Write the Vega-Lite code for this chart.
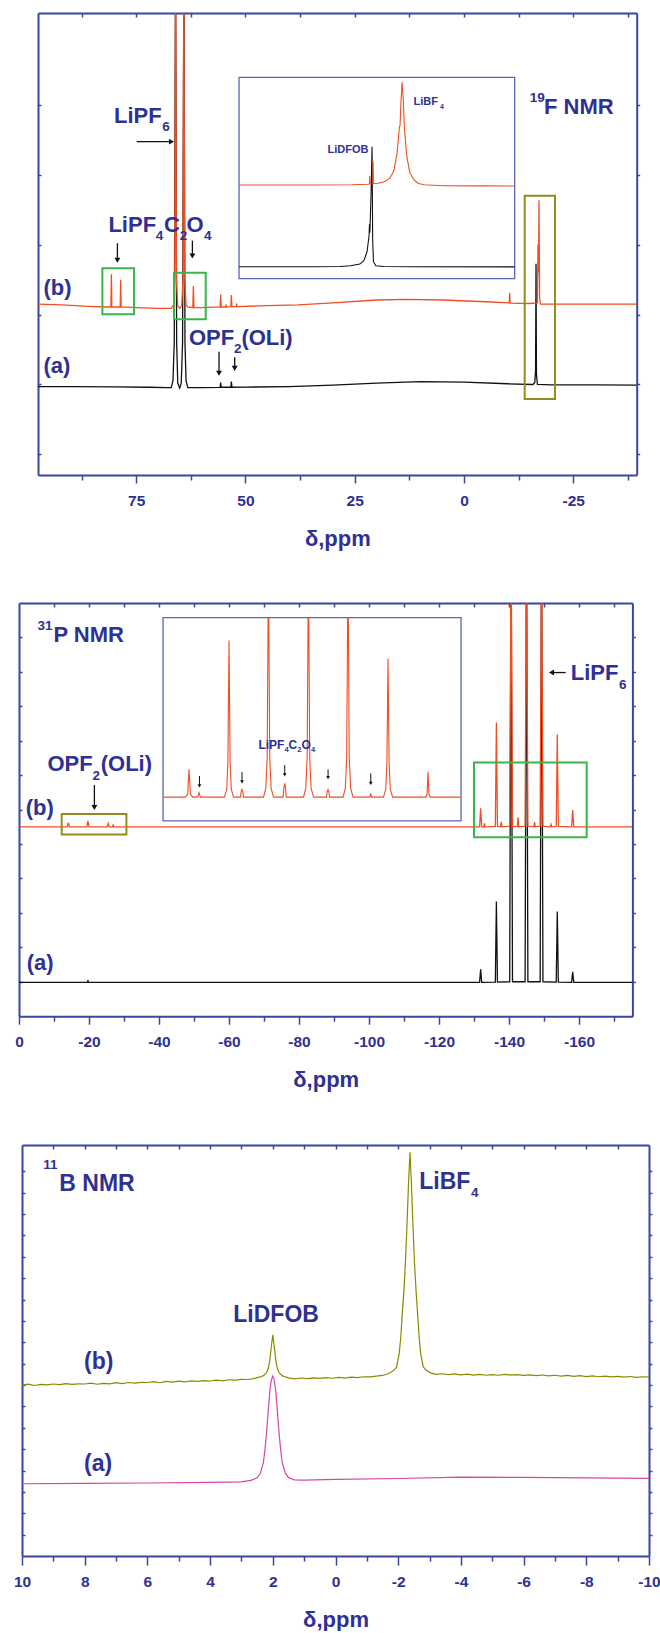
{
"$schema": "https://vega.github.io/schema/vega-lite/v6.json",
"padding": {"left": 0, "top": 12, "right": 0, "bottom": 0},
"background": "white",
"config": {
 "view": {"stroke": null},
 "axis": {"domainColor": "#3a46a0", "domainWidth": 2, "tickColor": "#3a46a0", "tickWidth": 1.5, "labelColor": "#2e3192", "labelFont": "Liberation Sans", "labelFontWeight": "bold", "labelFontSize": 15.5, "titleColor": "#2e3192", "titleFont": "Liberation Sans", "titleFontWeight": "bold", "titleFontSize": 22, "grid": false}
},
"datasets": {
 "p1a": [{"x":97.48,"y":0.97},{"x":90,"y":0.968},{"x":80,"y":0.965},{"x":72,"y":0.96},{"x":68,"y":0.955},{"x":67,"y":0.955},{"x":66.6,"y":1.05},{"x":66.3,"y":1.6},{"x":66.0,"y":7},{"x":65.75,"y":1.6},{"x":65.5,"y":1.02},{"x":65.05,"y":0.95},{"x":64.7,"y":1.02},{"x":64.4,"y":1.6},{"x":64.1,"y":7},{"x":63.85,"y":1.6},{"x":63.6,"y":1.05},{"x":63.2,"y":0.955},{"x":60,"y":0.955},{"x":55.8,"y":0.958},{"x":55.68,"y":1.026},{"x":55.56,"y":0.96},{"x":53.35,"y":0.96},{"x":53.23,"y":1.04},{"x":53.1,"y":0.96},{"x":50,"y":0.962},{"x":40,"y":0.97},{"x":30,"y":0.99},{"x":20,"y":1.02},{"x":10,"y":1.04},{"x":0,"y":1.035},{"x":-10,"y":1.01},{"x":-15.8,"y":1.0},{"x":-16.2,"y":1.03},{"x":-16.38,"y":1.2},{"x":-16.48,"y":2.73},{"x":-16.58,"y":1.15},{"x":-16.8,"y":1.0},{"x":-20,"y":0.995},{"x":-30,"y":0.993},{"x":-39.52,"y":0.99}],
 "p1b": [{"x":97.48,"y":2.15},{"x":92,"y":2.14},{"x":86,"y":2.12},{"x":82,"y":2.11},{"x":80.8,"y":2.11},{"x":80.69,"y":2.58},{"x":80.58,"y":2.11},{"x":78.67,"y":2.11},{"x":78.56,"y":2.5},{"x":78.45,"y":2.11},{"x":75,"y":2.1},{"x":70,"y":2.09},{"x":67,"y":2.09},{"x":66.45,"y":2.14},{"x":66.2,"y":2.5},{"x":66.0,"y":7},{"x":65.8,"y":2.5},{"x":65.5,"y":2.13},{"x":65.05,"y":2.09},{"x":64.6,"y":2.13},{"x":64.3,"y":2.5},{"x":64.1,"y":7},{"x":63.9,"y":2.5},{"x":63.6,"y":2.14},{"x":63.2,"y":2.11},{"x":62.05,"y":2.1},{"x":61.92,"y":2.41},{"x":61.79,"y":2.1},{"x":60,"y":2.1},{"x":55.8,"y":2.11},{"x":55.68,"y":2.29},{"x":55.56,"y":2.11},{"x":54.52,"y":2.11},{"x":54.46,"y":2.15},{"x":54.4,"y":2.11},{"x":53.35,"y":2.115},{"x":53.23,"y":2.28},{"x":53.1,"y":2.115},{"x":52.08,"y":2.115},{"x":52.01,"y":2.16},{"x":51.94,"y":2.115},{"x":45,"y":2.13},{"x":38,"y":2.14},{"x":30,"y":2.17},{"x":20,"y":2.21},{"x":13,"y":2.22},{"x":5,"y":2.21},{"x":-5,"y":2.185},{"x":-10.35,"y":2.17},{"x":-10.46,"y":2.31},{"x":-10.57,"y":2.165},{"x":-15,"y":2.16},{"x":-16.8,"y":2.17},{"x":-16.93,"y":3.0},{"x":-17.05,"y":2.6},{"x":-17.16,"y":3.64},{"x":-17.3,"y":2.25},{"x":-17.5,"y":2.15},{"x":-20,"y":2.15},{"x":-30,"y":2.15},{"x":-39.52,"y":2.15}],
 "p1ia": [{"x":-13.18,"y":1.2},{"x":-15.0,"y":1.2},{"x":-15.7,"y":1.22},{"x":-15.97,"y":1.29},{"x":-16.2,"y":1.46},{"x":-16.3,"y":1.8},{"x":-16.38,"y":2.7},{"x":-16.43,"y":4.3},{"x":-16.44,"y":5.44},{"x":-16.45,"y":4.6},{"x":-16.48,"y":8.5},{"x":-16.505,"y":13.2},{"x":-16.52,"y":4.0},{"x":-16.54,"y":1.7},{"x":-16.6,"y":1.3},{"x":-16.8,"y":1.22},{"x":-17.5,"y":1.2},{"x":-20.07,"y":1.18}],
 "p1ib": [{"x":-13.18,"y":9.37},{"x":-15.0,"y":9.37},{"x":-16.0,"y":9.39},{"x":-16.4,"y":9.45},{"x":-16.44,"y":9.46},{"x":-16.448,"y":10.27},{"x":-16.456,"y":9.47},{"x":-16.52,"y":9.5},{"x":-16.53,"y":11.8},{"x":-16.54,"y":9.52},{"x":-16.65,"y":9.55},{"x":-16.75,"y":9.63},{"x":-16.85,"y":9.76},{"x":-16.95,"y":10.05},{"x":-17.05,"y":10.79},{"x":-17.13,"y":12.53},{"x":-17.19,"y":15.2},{"x":-17.205,"y":15.3},{"x":-17.225,"y":17.5},{"x":-17.255,"y":19.64},{"x":-17.285,"y":18.0},{"x":-17.31,"y":15.3},{"x":-17.37,"y":12.3},{"x":-17.45,"y":10.6},{"x":-17.55,"y":9.9},{"x":-17.65,"y":9.55},{"x":-17.8,"y":9.4},{"x":-18.3,"y":9.3},{"x":-19.2,"y":9.28},{"x":-20.07,"y":9.27}],
 "p1frame": [{"x":-13.18,"x2":-20.07,"y":0,"y2":20.14}],
 "p1txt": [{"t":"LiPF","x":80.09,"y":4.751,"r":"b"},{"t":"6","x":69.02,"y":4.636,"r":"s"},{"t":"LiPF","x":81.37,"y":3.189,"r":"b"},{"t":"4","x":70.55,"y":3.07,"r":"s"},{"t":"C","x":68.65,"y":3.189,"r":"b"},{"t":"2","x":65.06,"y":3.07,"r":"s"},{"t":"O","x":63.52,"y":3.189,"r":"b"},{"t":"4","x":59.5,"y":3.07,"r":"s"},{"t":"OPF","x":62.93,"y":1.566,"r":"b"},{"t":"2","x":52.63,"y":1.447,"r":"s"},{"t":"(OLi)","x":50.94,"y":1.566,"r":"b"},{"t":"(b)","x":96.25,"y":2.282,"r":"b"},{"t":"(a)","x":96.25,"y":1.16,"r":"b"},{"t":"19","x":-15.03,"y":5.052,"r":"s"},{"t":"F NMR","x":-18.31,"y":4.871,"r":"b"}],
 "p1itxt": [{"t":"LiDFOB","x":-15.39,"y":12.6,"r":"b"},{"t":"LiBF","x":-17.54,"y":17.37,"r":"b"},{"t":"4","x":-18.205,"y":16.94,"r":"s"}],
 "p1arr": [{"x":66.93,"y":4.479,"x2":74.9,"y2":4.479,"d":"right"},{"x":79.31,"y":2.78,"x2":79.31,"y2":3.023,"d":"down"},{"x":62.15,"y":2.84,"x2":62.15,"y2":3.06,"d":"down"},{"x":56.06,"y":1.16,"x2":56.06,"y2":1.47,"d":"down"},{"x":52.47,"y":1.23,"x2":52.47,"y2":1.39,"d":"down"}],
 "p1box": [{"x":82.75,"x2":75.5,"y":2.006,"y2":2.665,"c":"g"},{"x":66.36,"x2":59.1,"y":1.934,"y2":2.6,"c":"g"},{"x":-13.89,"x2":-20.82,"y":0.792,"y2":3.705,"c":"o"}],
 "p2a": [{"x":0,"y":0.985},{"x":-19.5,"y":0.985},{"x":-19.7,"y":1.03},{"x":-19.9,"y":0.985},{"x":-131.6,"y":0.985},{"x":-131.9,"y":1.36},{"x":-132.2,"y":0.985},{"x":-136.1,"y":0.99},{"x":-136.4,"y":3.33},{"x":-136.7,"y":0.99},{"x":-140.2,"y":1.0},{"x":-140.6,"y":14},{"x":-141.0,"y":1.0},{"x":-144.6,"y":1.0},{"x":-145.0,"y":14},{"x":-145.4,"y":1.0},{"x":-148.9,"y":1.0},{"x":-149.3,"y":14},{"x":-149.7,"y":1.0},{"x":-153.5,"y":0.99},{"x":-153.8,"y":3.04},{"x":-154.1,"y":0.99},{"x":-157.9,"y":0.985},{"x":-158.2,"y":1.29},{"x":-158.5,"y":0.985},{"x":-175.26,"y":0.985}],
 "p2b": [{"x":0,"y":5.5},{"x":-13.8,"y":5.5},{"x":-14.1,"y":5.62},{"x":-14.4,"y":5.5},{"x":-19.4,"y":5.5},{"x":-19.7,"y":5.67},{"x":-20.0,"y":5.5},{"x":-25.2,"y":5.5},{"x":-25.5,"y":5.6},{"x":-25.8,"y":5.5},{"x":-26.7,"y":5.5},{"x":-26.9,"y":5.55},{"x":-27.1,"y":5.5},{"x":-131.6,"y":5.5},{"x":-131.9,"y":6.04},{"x":-132.2,"y":5.5},{"x":-132.8,"y":5.5},{"x":-133.0,"y":5.6},{"x":-133.2,"y":5.5},{"x":-136.1,"y":5.51},{"x":-136.4,"y":8.53},{"x":-136.7,"y":5.51},{"x":-137.6,"y":5.5},{"x":-137.8,"y":5.64},{"x":-138.0,"y":5.5},{"x":-140.2,"y":5.52},{"x":-140.6,"y":14},{"x":-141.0,"y":5.52},{"x":-142.4,"y":5.5},{"x":-142.6,"y":5.78},{"x":-142.8,"y":5.5},{"x":-144.6,"y":5.52},{"x":-145.0,"y":14},{"x":-145.4,"y":5.52},{"x":-147.1,"y":5.5},{"x":-147.3,"y":5.64},{"x":-147.5,"y":5.5},{"x":-148.9,"y":5.52},{"x":-149.3,"y":14},{"x":-149.7,"y":5.52},{"x":-151.8,"y":5.5},{"x":-152.0,"y":5.57},{"x":-152.2,"y":5.5},{"x":-153.5,"y":5.51},{"x":-153.8,"y":8.18},{"x":-154.1,"y":5.51},{"x":-157.9,"y":5.5},{"x":-158.2,"y":5.99},{"x":-158.5,"y":5.5},{"x":-175.26,"y":5.5}],
 "p2ib": [{"x":-129.04,"y":0},{"x":-131.5,"y":0},{"x":-131.75,"y":0.3},{"x":-131.9,"y":2.77},{"x":-132.05,"y":0.3},{"x":-132.3,"y":0},{"x":-132.85,"y":0},{"x":-133.0,"y":0.44},{"x":-133.15,"y":0},{"x":-135.8,"y":0},{"x":-136.05,"y":0.8},{"x":-136.18,"y":3.5},{"x":-136.3,"y":15.67},{"x":-136.42,"y":3.5},{"x":-136.55,"y":0.8},{"x":-136.8,"y":0},{"x":-137.55,"y":0},{"x":-137.65,"y":0.6},{"x":-137.73,"y":0.77},{"x":-137.81,"y":0.6},{"x":-137.9,"y":0},{"x":-140.1,"y":0},{"x":-140.35,"y":0.9},{"x":-140.5,"y":4.0},{"x":-140.6,"y":17.95},{"x":-140.68,"y":17.95},{"x":-140.78,"y":4.0},{"x":-140.93,"y":0.9},{"x":-141.2,"y":0},{"x":-142.25,"y":0},{"x":-142.35,"y":1.0},{"x":-142.43,"y":1.37},{"x":-142.51,"y":1.0},{"x":-142.6,"y":0},{"x":-144.5,"y":0},{"x":-144.75,"y":0.9},{"x":-144.9,"y":4.0},{"x":-145.0,"y":17.95},{"x":-145.08,"y":17.95},{"x":-145.18,"y":4.0},{"x":-145.33,"y":0.9},{"x":-145.6,"y":0},{"x":-147.02,"y":0},{"x":-147.12,"y":0.6},{"x":-147.2,"y":0.77},{"x":-147.28,"y":0.6},{"x":-147.38,"y":0},{"x":-148.85,"y":0},{"x":-149.1,"y":0.9},{"x":-149.25,"y":4.0},{"x":-149.35,"y":17.95},{"x":-149.43,"y":17.95},{"x":-149.53,"y":4.0},{"x":-149.68,"y":0.9},{"x":-149.95,"y":0},{"x":-151.8,"y":0},{"x":-151.9,"y":0.37},{"x":-152.0,"y":0},{"x":-153.3,"y":0},{"x":-153.55,"y":0.8},{"x":-153.68,"y":3.5},{"x":-153.8,"y":13.84},{"x":-153.92,"y":3.5},{"x":-154.05,"y":0.8},{"x":-154.3,"y":0},{"x":-157.95,"y":0},{"x":-158.1,"y":0.3},{"x":-158.2,"y":2.54},{"x":-158.3,"y":0.3},{"x":-158.45,"y":0},{"x":-161.83,"y":0}],
 "p2frame": [{"x":-129.04,"x2":-161.83,"y":-2.37,"y2":17.95}],
 "p2txt": [{"t":"31","x":-5.26,"y":11.23,"r":"s"},{"t":"P NMR","x":-9.83,"y":10.86,"r":"b"},{"t":"OPF","x":-8.11,"y":7.107,"r":"b"},{"t":"2","x":-20.97,"y":6.866,"r":"s"},{"t":"(OLi)","x":-23.34,"y":7.107,"r":"b"},{"t":"(b)","x":-1.91,"y":5.832,"r":"b"},{"t":"(a)","x":-2.2,"y":1.339,"r":"b"},{"t":"LiPF","x":-157.63,"y":9.771,"r":"b"},{"t":"6","x":-171.43,"y":9.512,"r":"s"}],
 "p2itxt": [{"t":"LiPF","x":-139.54,"y":4.77,"r":"b"},{"t":"4","x":-142.4,"y":4.47,"r":"s"},{"t":"C","x":-142.86,"y":4.77,"r":"b"},{"t":"2","x":-143.82,"y":4.47,"r":"s"},{"t":"O","x":-144.28,"y":4.77,"r":"b"},{"t":"4","x":-145.31,"y":4.47,"r":"s"}],
 "p2arr": [{"x":-21.54,"y":6.06,"x2":-21.54,"y2":6.712,"d":"down"},{"x":-152.14,"y":9.98,"x2":-156.2,"y2":9.98,"d":"left"}],
 "p2iarr": [{"x":-133.05,"y":1.12,"x2":-133.05,"y2":2.1,"d":"down"},{"x":-137.73,"y":1.52,"x2":-137.73,"y2":2.5,"d":"down"},{"x":-142.43,"y":2.22,"x2":-142.43,"y2":3.2,"d":"down"},{"x":-147.2,"y":1.95,"x2":-147.2,"y2":2.77,"d":"down"},{"x":-151.9,"y":1.38,"x2":-151.9,"y2":2.37,"d":"down"}],
 "p2box": [{"x":-12.2,"x2":-30.69,"y":5.28,"y2":5.873,"c":"o"},{"x":-130,"x2":-162.2,"y":5.196,"y2":7.366,"c":"g"}],
 "p3a": [{"x":10,"y":3.385},{"x":8,"y":3.4},{"x":6,"y":3.42},{"x":4,"y":3.45},{"x":3.0,"y":3.47},{"x":2.7,"y":3.54},{"x":2.5,"y":3.66},{"x":2.4,"y":3.86},{"x":2.3,"y":4.38},{"x":2.25,"y":4.98},{"x":2.2,"y":5.76},{"x":2.15,"y":6.7},{"x":2.1,"y":7.63},{"x":2.05,"y":8.22},{"x":2.0,"y":8.42},{"x":1.95,"y":8.22},{"x":1.9,"y":7.63},{"x":1.85,"y":6.7},{"x":1.8,"y":5.76},{"x":1.75,"y":4.98},{"x":1.7,"y":4.38},{"x":1.6,"y":3.88},{"x":1.5,"y":3.67},{"x":1.3,"y":3.56},{"x":1.0,"y":3.55},{"x":0,"y":3.59},{"x":-2,"y":3.63},{"x":-4,"y":3.69},{"x":-6,"y":3.68},{"x":-8,"y":3.66},{"x":-10,"y":3.64}],
 "p3b": [{"x":10.0,"y":8.0},{"x":9.8,"y":8.04},{"x":9.6,"y":7.98},{"x":9.4,"y":8.03},{"x":9.2,"y":8.01},{"x":9.0,"y":8.05},{"x":8.8,"y":8.02},{"x":8.6,"y":8.07},{"x":8.4,"y":8.03},{"x":8.2,"y":8.06},{"x":8.0,"y":8.05},{"x":7.8,"y":8.09},{"x":7.6,"y":8.04},{"x":7.4,"y":8.08},{"x":7.2,"y":8.06},{"x":7.0,"y":8.11},{"x":6.8,"y":8.07},{"x":6.6,"y":8.12},{"x":6.4,"y":8.09},{"x":6.2,"y":8.13},{"x":6.0,"y":8.12},{"x":5.8,"y":8.16},{"x":5.6,"y":8.11},{"x":5.4,"y":8.17},{"x":5.2,"y":8.14},{"x":5.0,"y":8.18},{"x":4.8,"y":8.15},{"x":4.6,"y":8.2},{"x":4.4,"y":8.17},{"x":4.2,"y":8.21},{"x":4.0,"y":8.19},{"x":3.8,"y":8.23},{"x":3.6,"y":8.2},{"x":3.4,"y":8.25},{"x":3.2,"y":8.23},{"x":3.0,"y":8.27},{"x":2.8,"y":8.26},{"x":2.6,"y":8.3},{"x":2.5,"y":8.35},{"x":2.4,"y":8.38},{"x":2.3,"y":8.44},{"x":2.2,"y":8.58},{"x":2.15,"y":8.75},{"x":2.1,"y":9.1},{"x":2.05,"y":9.77},{"x":2.0,"y":10.35},{"x":1.95,"y":9.77},{"x":1.9,"y":9.1},{"x":1.85,"y":8.75},{"x":1.8,"y":8.58},{"x":1.7,"y":8.44},{"x":1.6,"y":8.38},{"x":1.5,"y":8.34},{"x":1.3,"y":8.29},{"x":1.1,"y":8.33},{"x":0.9,"y":8.3},{"x":0.7,"y":8.34},{"x":0.5,"y":8.31},{"x":0.3,"y":8.35},{"x":0.1,"y":8.32},{"x":-0.1,"y":8.36},{"x":-0.3,"y":8.33},{"x":-0.5,"y":8.37},{"x":-0.7,"y":8.35},{"x":-0.9,"y":8.39},{"x":-1.1,"y":8.38},{"x":-1.3,"y":8.42},{"x":-1.5,"y":8.45},{"x":-1.7,"y":8.54},{"x":-1.85,"y":8.68},{"x":-1.95,"y":8.84},{"x":-2.03,"y":9.46},{"x":-2.08,"y":10.19},{"x":-2.13,"y":11.33},{"x":-2.18,"y":12.37},{"x":-2.23,"y":13.72},{"x":-2.28,"y":15.49},{"x":-2.33,"y":17.47},{"x":-2.376,"y":18.89},{"x":-2.42,"y":17.5},{"x":-2.47,"y":15.5},{"x":-2.52,"y":13.7},{"x":-2.57,"y":12.4},{"x":-2.62,"y":11.3},{"x":-2.67,"y":10.2},{"x":-2.72,"y":9.45},{"x":-2.8,"y":8.85},{"x":-2.9,"y":8.68},{"x":-3.05,"y":8.56},{"x":-3.2,"y":8.5},{"x":-3.4,"y":8.53},{"x":-3.6,"y":8.49},{"x":-3.8,"y":8.52},{"x":-4.0,"y":8.48},{"x":-4.2,"y":8.51},{"x":-4.4,"y":8.47},{"x":-4.6,"y":8.5},{"x":-4.8,"y":8.46},{"x":-5.0,"y":8.49},{"x":-5.2,"y":8.46},{"x":-5.4,"y":8.5},{"x":-5.6,"y":8.47},{"x":-5.8,"y":8.49},{"x":-6.0,"y":8.45},{"x":-6.2,"y":8.48},{"x":-6.4,"y":8.44},{"x":-6.6,"y":8.47},{"x":-6.8,"y":8.43},{"x":-7.0,"y":8.46},{"x":-7.2,"y":8.42},{"x":-7.4,"y":8.45},{"x":-7.6,"y":8.41},{"x":-7.8,"y":8.44},{"x":-8.0,"y":8.4},{"x":-8.2,"y":8.43},{"x":-8.4,"y":8.39},{"x":-8.6,"y":8.42},{"x":-8.8,"y":8.38},{"x":-9.0,"y":8.41},{"x":-9.2,"y":8.37},{"x":-9.4,"y":8.4},{"x":-9.6,"y":8.36},{"x":-9.8,"y":8.39},{"x":-10.0,"y":8.37}],
 "p3txt": [{"t":"11","x":9.32,"y":18.12,"r":"s"},{"t":"B NMR","x":8.81,"y":17.1,"r":"b"},{"t":"LiDFOB","x":3.26,"y":10.94,"r":"b"},{"t":"(b)","x":8.02,"y":8.77,"r":"b"},{"t":"(a)","x":8.02,"y":3.98,"r":"b"},{"t":"LiBF","x":-2.67,"y":17.19,"r":"b"},{"t":"4","x":-4.32,"y":16.8,"r":"s"}]
},
"vconcat": [
 {
  "hconcat": [
   {"width": 37.3, "height": 462, "data": {"values": [{"a": 1}]}, "mark": {"type": "point", "opacity": 0}},
   {
    "width": 598.7, "height": 462,
    "layer": [
     {
      "encoding": {
       "x": {"field": "x", "type": "quantitative", "scale": {"domain": [-39.52, 97.48], "reverse": true, "nice": false, "zero": false},
             "axis": {"orient": "bottom", "values": [75, 50, 25, 0, -25], "tickSize": 8, "labelPadding": 22, "labelBaseline": "alphabetic", "labelFlush": false, "labelOverlap": false, "labelExpr": "'' + datum.value", "title": "δ,ppm", "titleY": 70, "titleBaseline": "alphabetic"}},
       "y": {"field": "y", "type": "quantitative", "scale": {"domain": [-0.297, 6.322], "nice": false, "zero": false},
             "axis": {"orient": "left", "values": [0, 1, 2, 3, 4, 5], "tickSize": -3, "labels": false, "title": null}}
      },
      "layer": [
       {"data": {"name": "p1a"}, "mark": {"type": "line", "color": "#111111", "strokeWidth": 1.3, "clip": true}},
       {"data": {"name": "p1b"}, "mark": {"type": "line", "color": "#f04e23", "strokeWidth": 1.3, "clip": true}},
       {"data": {"name": "p1box"}, "mark": {"type": "rect", "filled": false, "strokeWidth": 2},
        "encoding": {"x2": {"field": "x2"}, "y2": {"field": "y2"}, "stroke": {"field": "c", "type": "nominal", "scale": {"domain": ["g", "o"], "range": ["#3ab54a", "#8e8d1e"]}, "legend": null}}},
       {"data": {"name": "p1arr"}, "mark": {"type": "rule", "color": "#111111", "strokeWidth": 1.3}, "encoding": {"x2": {"field": "x2"}, "y2": {"field": "y2"}}},
       {"data": {"name": "p1arr"}, "mark": {"type": "point", "filled": true, "color": "#111111", "opacity": 1, "size": 35},
        "encoding": {"shape": {"field": "d", "type": "nominal", "scale": {"domain": ["down", "right", "left"], "range": ["triangle-down", "triangle-right", "triangle-left"]}, "legend": null}}},
       {"data": {"name": "p1txt"}, "transform": [{"filter": "datum.r === 'b'"}], "mark": {"type": "text", "align": "left", "baseline": "alphabetic", "font": "Liberation Sans", "fontWeight": "bold", "fontSize": 22, "color": "#2e3192"}, "encoding": {"text": {"field": "t"}}},
       {"data": {"name": "p1txt"}, "transform": [{"filter": "datum.r === 's'"}], "mark": {"type": "text", "align": "left", "baseline": "alphabetic", "font": "Liberation Sans", "fontWeight": "bold", "fontSize": 13.5, "color": "#2e3192"}, "encoding": {"text": {"field": "t"}}}
      ]
     },
     {
      "data": {"values": [{"x": 0, "y": 0}]},
      "mark": {"type": "point", "opacity": 0},
      "encoding": {
       "x": {"field": "x", "type": "quantitative", "scale": {"domain": [-39.52, 97.48], "reverse": true, "nice": false, "zero": false},
             "axis": {"orient": "top", "values": [87.5, 75, 62.5, 50, 37.5, 25, 12.5, 0, -12.5, -25, -37.5], "tickSize": -4, "labels": false, "title": null}},
       "y": {"field": "y", "type": "quantitative", "scale": {"domain": [-0.297, 6.322], "nice": false, "zero": false},
             "axis": {"orient": "right", "values": [0, 1, 2, 3, 4, 5], "tickSize": 3, "labels": false, "title": null}}
      }
     },
     {
      "data": {"values": [{"x": 0}]},
      "mark": {"type": "point", "opacity": 0},
      "encoding": {
       "x": {"field": "x", "type": "quantitative", "scale": {"domain": [-39.52, 97.48], "reverse": true, "nice": false, "zero": false},
             "axis": {"orient": "bottom", "values": [87.5, 62.5, 37.5, 12.5, -12.5, -37.5], "tickSize": 5, "labels": false, "domain": false, "title": null}}
      }
     },
     {
      "encoding": {
       "x": {"field": "x", "type": "quantitative", "scale": {"domain": [-23.12, -8.155], "reverse": true, "nice": false, "zero": false}, "axis": null},
       "y": {"field": "y", "type": "quantitative", "scale": {"domain": [-19.63, 26.57], "nice": false, "zero": false}, "axis": null}
      },
      "layer": [
       {"data": {"name": "p1frame"}, "mark": {"type": "rect", "filled": false, "color": "#5a67b0", "stroke": "#5a67b0", "strokeWidth": 1.3}, "encoding": {"x2": {"field": "x2"}, "y2": {"field": "y2"}}},
       {"data": {"name": "p1ia"}, "mark": {"type": "line", "color": "#111111", "strokeWidth": 1.1}},
       {"data": {"name": "p1ib"}, "mark": {"type": "line", "color": "#f04e23", "strokeWidth": 1.1}},
       {"data": {"name": "p1itxt"}, "transform": [{"filter": "datum.r === 'b'"}], "mark": {"type": "text", "align": "left", "baseline": "alphabetic", "font": "Liberation Sans", "fontWeight": "bold", "fontSize": 11, "color": "#2e3192"}, "encoding": {"text": {"field": "t"}}},
       {"data": {"name": "p1itxt"}, "transform": [{"filter": "datum.r === 's'"}], "mark": {"type": "text", "align": "left", "baseline": "alphabetic", "font": "Liberation Sans", "fontWeight": "bold", "fontSize": 7, "color": "#2e3192"}, "encoding": {"text": {"field": "t"}}}
      ]
     }
    ],
    "resolve": {"scale": {"x": "independent", "y": "independent"}, "axis": {"x": "independent", "y": "independent"}}
   }
  ],
  "spacing": 0, "bounds": "flush"
 },
 {
  "hconcat": [
   {"width": 18.3, "height": 413.2, "data": {"values": [{"a": 1}]}, "mark": {"type": "point", "opacity": 0}},
   {
    "width": 613.4, "height": 413.2,
    "layer": [
     {
      "encoding": {
       "x": {"field": "x", "type": "quantitative", "scale": {"domain": [-175.26, 0], "reverse": true, "nice": false, "zero": false},
             "axis": {"orient": "bottom", "values": [0, -20, -40, -60, -80, -100, -120, -140, -160], "tickSize": 8, "labelPadding": 22, "labelBaseline": "alphabetic", "labelFlush": false, "labelOverlap": false, "labelExpr": "'' + datum.value", "title": "δ,ppm", "titleY": 70, "titleBaseline": "alphabetic"}},
       "y": {"field": "y", "type": "quantitative", "scale": {"domain": [0, 12], "nice": false, "zero": false},
             "axis": {"orient": "left", "values": [1, 2, 3, 4, 5, 6, 7, 8, 9, 10, 11], "tickSize": -3, "labels": false, "title": null}}
      },
      "layer": [
       {"data": {"name": "p2a"}, "mark": {"type": "line", "color": "#111111", "strokeWidth": 1.3, "clip": true}},
       {"data": {"name": "p2b"}, "mark": {"type": "line", "color": "#f04e23", "strokeWidth": 1.3, "clip": true}},
       {"data": {"name": "p2box"}, "mark": {"type": "rect", "filled": false, "strokeWidth": 2},
        "encoding": {"x2": {"field": "x2"}, "y2": {"field": "y2"}, "stroke": {"field": "c", "type": "nominal", "scale": {"domain": ["g", "o"], "range": ["#3ab54a", "#8e8d1e"]}, "legend": null}}},
       {"data": {"name": "p2arr"}, "mark": {"type": "rule", "color": "#111111", "strokeWidth": 1.3}, "encoding": {"x2": {"field": "x2"}, "y2": {"field": "y2"}}},
       {"data": {"name": "p2arr"}, "mark": {"type": "point", "filled": true, "color": "#111111", "opacity": 1, "size": 35},
        "encoding": {"shape": {"field": "d", "type": "nominal", "scale": {"domain": ["down", "right", "left"], "range": ["triangle-down", "triangle-right", "triangle-left"]}, "legend": null}}},
       {"data": {"name": "p2txt"}, "transform": [{"filter": "datum.r === 'b'"}], "mark": {"type": "text", "align": "left", "baseline": "alphabetic", "font": "Liberation Sans", "fontWeight": "bold", "fontSize": 22, "color": "#2e3192"}, "encoding": {"text": {"field": "t"}}},
       {"data": {"name": "p2txt"}, "transform": [{"filter": "datum.r === 's'"}], "mark": {"type": "text", "align": "left", "baseline": "alphabetic", "font": "Liberation Sans", "fontWeight": "bold", "fontSize": 13.5, "color": "#2e3192"}, "encoding": {"text": {"field": "t"}}}
      ]
     },
     {
      "data": {"values": [{"x": 0, "y": 0}]},
      "mark": {"type": "point", "opacity": 0},
      "encoding": {
       "x": {"field": "x", "type": "quantitative", "scale": {"domain": [-175.26, 0], "reverse": true, "nice": false, "zero": false},
             "axis": {"orient": "top", "values": [-10, -20, -30, -40, -50, -60, -70, -80, -90, -100, -110, -120, -130, -140, -150, -160, -170], "tickSize": -4, "labels": false, "title": null}},
       "y": {"field": "y", "type": "quantitative", "scale": {"domain": [0, 12], "nice": false, "zero": false},
             "axis": {"orient": "right", "values": [1, 2, 3, 4, 5, 6, 7, 8, 9, 10, 11], "tickSize": 3, "labels": false, "title": null}}
      }
     },
     {
      "data": {"values": [{"x": 0}]},
      "mark": {"type": "point", "opacity": 0},
      "encoding": {
       "x": {"field": "x", "type": "quantitative", "scale": {"domain": [-175.26, 0], "reverse": true, "nice": false, "zero": false},
             "axis": {"orient": "bottom", "values": [-10, -30, -50, -70, -90, -110, -130, -150, -170], "tickSize": 5, "labels": false, "domain": false, "title": null}}
      }
     },
     {
      "encoding": {
       "x": {"field": "x", "type": "quantitative", "scale": {"domain": [-180.69, -113.19], "reverse": true, "nice": false, "zero": false}, "axis": null},
       "y": {"field": "y", "type": "quantitative", "scale": {"domain": [-21.91, 19.41], "nice": false, "zero": false}, "axis": null}
      },
      "layer": [
       {"data": {"name": "p2frame"}, "mark": {"type": "rect", "filled": false, "color": "#5a67b0", "stroke": "#5a67b0", "strokeWidth": 1.3}, "encoding": {"x2": {"field": "x2"}, "y2": {"field": "y2"}}},
       {"data": {"name": "p2ib"}, "mark": {"type": "line", "color": "#f04e23", "strokeWidth": 1.1}},
       {"data": {"name": "p2iarr"}, "mark": {"type": "rule", "color": "#111111", "strokeWidth": 1}, "encoding": {"x2": {"field": "x2"}, "y2": {"field": "y2"}}},
       {"data": {"name": "p2iarr"}, "mark": {"type": "point", "filled": true, "color": "#111111", "opacity": 1, "size": 14},
        "encoding": {"shape": {"field": "d", "type": "nominal", "scale": {"domain": ["down", "right", "left"], "range": ["triangle-down", "triangle-right", "triangle-left"]}, "legend": null}}},
       {"data": {"name": "p2itxt"}, "transform": [{"filter": "datum.r === 'b'"}], "mark": {"type": "text", "align": "left", "baseline": "alphabetic", "font": "Liberation Sans", "fontWeight": "bold", "fontSize": 12, "color": "#2e3192"}, "encoding": {"text": {"field": "t"}}},
       {"data": {"name": "p2itxt"}, "transform": [{"filter": "datum.r === 's'"}], "mark": {"type": "text", "align": "left", "baseline": "alphabetic", "font": "Liberation Sans", "fontWeight": "bold", "fontSize": 7.5, "color": "#2e3192"}, "encoding": {"text": {"field": "t"}}}
      ]
     }
    ],
    "resolve": {"scale": {"x": "independent", "y": "independent"}, "axis": {"x": "independent", "y": "independent"}}
   }
  ],
  "spacing": 0, "bounds": "flush"
 },
 {
  "hconcat": [
   {"width": 22, "height": 411.1, "data": {"values": [{"a": 1}]}, "mark": {"type": "point", "opacity": 0}},
   {
    "width": 627, "height": 411.1,
    "layer": [
     {
      "encoding": {
       "x": {"field": "x", "type": "quantitative", "scale": {"domain": [-10, 10], "reverse": true, "nice": false, "zero": false},
             "axis": {"orient": "bottom", "values": [10, 8, 6, 4, 2, 0, -2, -4, -6, -8, -10], "tickSize": 9, "labelPadding": 21, "labelBaseline": "alphabetic", "labelFlush": false, "labelOverlap": false, "labelExpr": "'' + datum.value", "title": "δ,ppm", "titleY": 70, "titleBaseline": "alphabetic"}},
       "y": {"field": "y", "type": "quantitative", "scale": {"domain": [0, 19.23], "nice": false, "zero": false},
             "axis": {"orient": "left", "values": [1, 2, 3, 4, 5, 6, 7, 8, 9, 10, 11, 12, 13, 14, 15, 16, 17, 18], "tickSize": -3, "labels": false, "title": null}}
      },
      "layer": [
       {"data": {"name": "p3a"}, "mark": {"type": "line", "color": "#d6479d", "strokeWidth": 1.2, "clip": true}},
       {"data": {"name": "p3b"}, "mark": {"type": "line", "color": "#8a8a00", "strokeWidth": 1.2, "clip": true}},
       {"data": {"name": "p3txt"}, "transform": [{"filter": "datum.r === 'b'"}], "mark": {"type": "text", "align": "left", "baseline": "alphabetic", "font": "Liberation Sans", "fontWeight": "bold", "fontSize": 23, "color": "#2e3192"}, "encoding": {"text": {"field": "t"}}},
       {"data": {"name": "p3txt"}, "transform": [{"filter": "datum.r === 's'"}], "mark": {"type": "text", "align": "left", "baseline": "alphabetic", "font": "Liberation Sans", "fontWeight": "bold", "fontSize": 13.5, "color": "#2e3192"}, "encoding": {"text": {"field": "t"}}}
      ]
     },
     {
      "data": {"values": [{"x": 0, "y": 0}]},
      "mark": {"type": "point", "opacity": 0},
      "encoding": {
       "x": {"field": "x", "type": "quantitative", "scale": {"domain": [-10, 10], "reverse": true, "nice": false, "zero": false},
             "axis": {"orient": "top", "values": [9, 8, 7, 6, 5, 4, 3, 2, 1, 0, -1, -2, -3, -4, -5, -6, -7, -8, -9], "tickSize": -4, "labels": false, "title": null}},
       "y": {"field": "y", "type": "quantitative", "scale": {"domain": [0, 19.23], "nice": false, "zero": false},
             "axis": {"orient": "right", "values": [1, 2, 3, 4, 5, 6, 7, 8, 9, 10, 11, 12, 13, 14, 15, 16, 17, 18], "tickSize": 3, "labels": false, "title": null}}
      }
     },
     {
      "data": {"values": [{"x": 0}]},
      "mark": {"type": "point", "opacity": 0},
      "encoding": {
       "x": {"field": "x", "type": "quantitative", "scale": {"domain": [-10, 10], "reverse": true, "nice": false, "zero": false},
             "axis": {"orient": "bottom", "values": [9, 7, 5, 3, 1, -1, -3, -5, -7, -9], "tickSize": 5, "labels": false, "domain": false, "title": null}}
      }
     }
    ],
    "resolve": {"scale": {"x": "independent", "y": "independent"}, "axis": {"x": "independent", "y": "independent"}}
   }
  ],
  "spacing": 0, "bounds": "flush"
 }
],
"spacing": 53,
"bounds": "full"
}
